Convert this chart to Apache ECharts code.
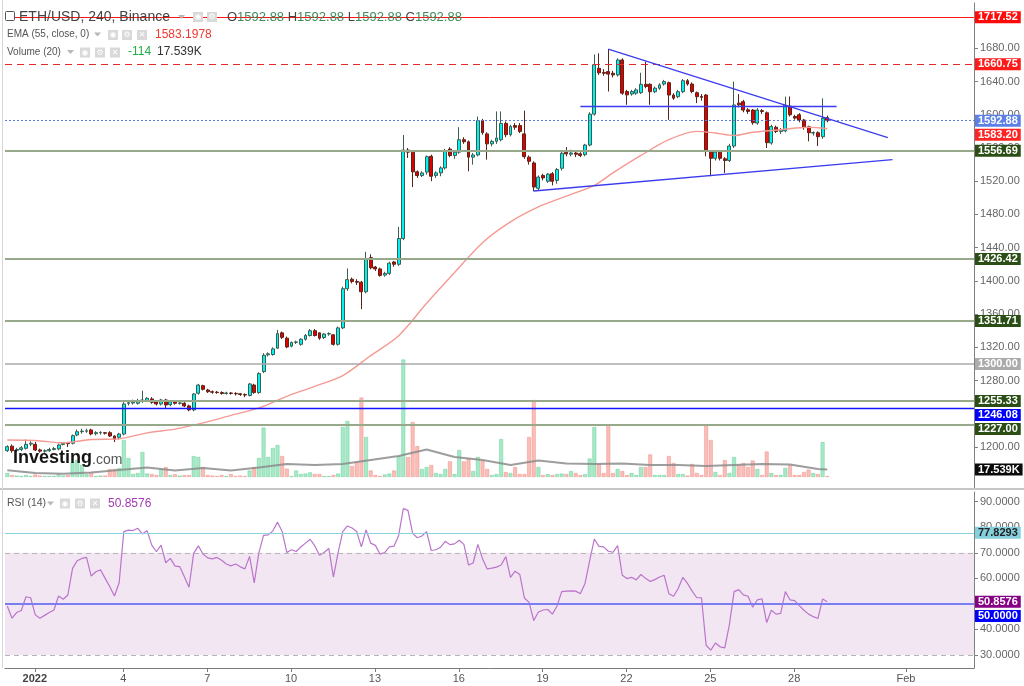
<!DOCTYPE html>
<html><head><meta charset="utf-8">
<script src="https://cdn.jsdelivr.net/npm/echarts@6/dist/echarts.min.js"></script>
<style>html,body{margin:0;padding:0;background:#fff}#c{width:1024px;height:686px}</style>
</head><body><div id="c"></div>
<script>
// ---------- DATA ----------
const START = Date.UTC(2021, 11, 30, 20, 0); // first 4h candle
const N_CAT = 208;                             // 4h slots shown on the time axis
const categories = [];
for (let i = 0; i < N_CAT; i++) {
  categories.push(new Date(START + i * 4 * 3600e3).toISOString().slice(0, 16).replace('T', ' '));
}

// [open, close, low, high] per 4h candle
const ohlc = [
[1195.5,1200.4,1194,1202],[1201,1195.5,1193,1203],[1196,1197,1194,1199],[1197,1199,1195,1201],[1198.4,1203.2,1197,1209],[1203.5,1204.5,1201,1207],[1203.2,1196.4,1195,1206],[1196.5,1195,1193,1198],[1195,1195.5,1193,1197],[1195.5,1197,1194,1199],
[1197,1198,1196,1200],[1197.6,1202.4,1196,1204],[1203,1204.5,1202,1206],[1204.5,1204,1200,1206],[1204.5,1213.6,1203,1215],[1214.4,1218.4,1213,1221],[1218.4,1219,1216,1222],[1219,1219.5,1217,1222],[1220.5,1215.7,1214,1222],[1216,1217.2,1214,1219],
[1217,1217.5,1215,1219],[1217.2,1216.6,1215,1218],[1217.2,1213.2,1212,1219],[1213.2,1209.3,1206,1214],[1211.7,1215.6,1209,1217],[1215.6,1251.8,1214,1254],[1252.5,1253.3,1250,1256],[1253,1254,1251,1257],[1252.6,1255.7,1251,1258],[1256,1256.6,1253,1267.8],
[1255.7,1258.6,1254,1260],[1257.8,1253.8,1252,1260],[1254.5,1251.8,1250,1256],[1251.8,1256.6,1250,1258],[1256.6,1250.6,1246.6,1258],[1250.9,1254.5,1249,1256],[1254.5,1252.6,1251,1256],[1252.6,1253,1251,1255],[1252.6,1249.4,1248,1254],[1249.4,1244.6,1243,1251],
[1244.6,1263.8,1243,1265],[1264.7,1274.6,1263,1276],[1273.8,1269.5,1268,1275],[1268.6,1266.6,1265,1270],[1266.5,1266,1264,1268],[1266,1265.5,1264,1267.5],[1265.5,1264.5,1263,1267],[1264.5,1265,1263,1266.5],[1265,1264.5,1263,1266],[1264.5,1264,1262,1266],
[1264,1263.2,1261.5,1265],[1263.2,1262.5,1260,1264.5],[1262,1275.9,1261,1277],[1274.6,1265.5,1264,1276],[1265.5,1288.4,1264,1290],[1290.7,1310.4,1289,1313],[1311,1312.2,1309,1314],[1311.3,1318.1,1310,1320],[1319,1336.5,1318,1341],[1337.4,1332,1330,1339],
[1331,1320.4,1319,1333],[1321.4,1325.9,1320,1327],[1326,1326.5,1324,1328],[1323.6,1329.7,1322,1331],[1329.7,1334.2,1328,1336],[1334.2,1340,1333,1342],[1340,1334.2,1333,1342],[1337.4,1331,1329,1338],[1331.8,1336,1330,1337],[1336,1336.5,1334,1338],
[1335,1323.6,1322,1336],[1323.6,1343.4,1322,1345],[1343.4,1390.6,1342,1393],[1390.6,1401.5,1388,1415],[1402,1399.3,1397,1404],[1399.3,1398.4,1395,1402],[1398.4,1386.9,1366,1400],[1386.9,1426.8,1385,1435],[1428,1415.8,1414,1432],[1416.7,1414.4,1412,1418],
[1414.4,1406.6,1405,1416],[1407,1409,1405,1411],[1409,1421.3,1407,1423],[1422.7,1420,1417,1424],[1420,1451,1418,1465],[1451,1557.5,1449,1575.7],[1557.5,1555,1548,1560],[1555,1531.3,1513,1557],[1531.3,1526.8,1524,1533],[1526.8,1530,1525,1532],
[1531,1549.6,1528,1551],[1550,1526,1520,1552],[1527,1530,1524,1532],[1530,1536,1526,1538],[1536,1557,1534,1559],[1558.7,1551,1549,1561],[1551,1555,1547,1557],[1555,1570,1553,1585],[1570,1567.5,1565,1573],[1567.5,1549,1532,1569],
[1549,1551.6,1540,1554],[1551.6,1593,1550,1598],[1593,1578.5,1576,1595],[1577,1565,1546,1579],[1565,1568,1562,1570],[1568,1572,1565,1604],[1570,1589.6,1568,1604],[1589.6,1576,1573,1592],[1576,1586,1574,1588],[1587,1585,1582,1590],
[1587,1580,1578,1590],[1577,1549.6,1547,1605],[1549,1544,1540,1551],[1542,1513,1508,1544],[1511.5,1525,1509,1527],[1527,1524,1521,1529],[1520,1528.5,1518,1530],[1529,1520,1515,1531],[1521,1534,1517,1536],[1535.6,1553.6,1533,1556],
[1555,1553,1550,1561],[1552.5,1554,1550,1558],[1554,1552.5,1549,1557],[1553,1551,1549,1555],[1552,1563.6,1550,1565],[1563.6,1600.8,1562,1603],[1600.8,1660.3,1599,1672.7],[1656,1650.5,1648,1674],[1651,1650,1647,1655],[1652,1649,1628,1679],
[1650,1648,1645,1653],[1648,1666,1646,1668],[1666,1626,1624,1668],[1628,1624,1612,1630],[1625,1628,1623,1630],[1626,1630,1624,1632],[1626.6,1636.7,1625,1650.6],[1636.7,1634,1632,1664],[1636.7,1627.8,1612,1638],[1627.8,1632,1626,1634],
[1632,1636,1630,1638],[1637,1640,1635,1642],[1638.6,1623.8,1594,1640],[1623.8,1620,1618,1626],[1621.8,1627.8,1620,1630],[1627.8,1641,1626,1643],[1641,1637,1635,1643],[1637,1628,1626,1639],[1626.6,1621.8,1614,1628],[1622,1621,1617,1625],
[1623.8,1557.6,1550,1625],[1555.5,1547.6,1526,1557],[1547.6,1555,1545,1557],[1555,1547.6,1545,1557],[1547,1545,1530,1549],[1545,1562.4,1543,1565],[1562.4,1611.8,1560,1640],[1614,1612,1609,1625],[1615.8,1605.7,1603,1618],[1606,1604,1601,1608],
[1605.7,1590.5,1588,1607],[1590,1605.7,1588,1608],[1605,1604,1601,1607],[1602.4,1566.4,1560,1604],[1566,1586,1564,1588],[1585,1580,1578,1587],[1580,1582,1577,1584],[1580.6,1611.6,1579,1621.8],[1610.5,1600,1598,1622],[1598,1596,1594,1600],
[1600,1593.7,1591,1602],[1593.7,1584.8,1582,1595],[1585.6,1578.4,1568,1587],[1578,1578.5,1575,1580],[1578.4,1573.6,1562.4,1580],[1573.6,1595.7,1571,1619.8],[1596.5,1592.88,1591,1599]
];

// volume per candle (K)
const volume = [
9.4,4.7,3.5,2.3,4.7,2.3,5.9,3.5,2.3,2.3,
2.3,7,3.5,4.7,35,40,28,7,11.7,2.3,
3.5,3.5,18.7,18.7,21,86.6,44.5,7,9.4,58.5,
8.2,7,4.7,18.7,23.4,4.7,7,3.5,4.7,4.7,
49,46.8,23.4,4.7,3.5,2.3,4.7,2.3,7,2.3,
3.5,2.3,15.2,23.4,44.5,115.8,46.8,67.9,74.9,49.1,
19.7,2.3,15.2,7,8.2,10.8,7,7,2.3,2.3,
4.7,8.2,117,131,25.7,35.1,186,93.6,15.2,4.7,
2.3,5.9,8.2,15.2,49.1,275,46.8,128.7,72.5,18.7,
23.4,28.1,9.4,7,18.7,36.5,7,63.2,36.5,43.3,
14,46.8,38.6,18.7,4.7,7,88.9,11.7,9.4,23.4,
7,7,93.6,180.2,23.4,4.7,7,4.7,7,8.2,
7,14,9.4,4.7,7,43.3,117,30.4,9.4,123.3,
9.4,18.7,14,4.7,9.4,4.7,23.4,23.4,52.9,4.7,
4.7,4.7,49.1,32.8,7,7,3.5,30.4,9.4,4.7,
123.3,86.6,11.7,4.7,39.8,9.4,46.8,28.1,32.8,23.4,
38.6,18.7,4.7,59.7,9.4,4.7,4.7,21.1,28.1,4.7,
4.7,11.7,17.3,9.4,7,81.9,2.3
];

// Volume (20) average, read at sample candles [index, K]
const volMaPoints = [[0,15.7],[6,9.4],[12,7.7],[18,10.5],[24,16.4],[30,22.2],[36,15.2],[42,21],[48,15.2],[54,22.2],[60,30.4],[66,28.1],[72,30.4],[78,39.8],[84,49.1],[90,64.4],[96,46.8],[102,39.8],[108,28.1],[114,38.6],[120,31.6],[126,30.4],[132,31.6],[138,28.1],[144,28.1],[150,25.7],[156,28.1],[162,30.4],[168,29.3],[174,18.7],[176,17.5]];

// EMA(55) read at sample candles [index, price]
const emaPoints = [[0,1208.4],[6,1207.8],[12,1205],[18,1209],[24,1209.8],[30,1217],[36,1221.5],[42,1229],[48,1238],[54,1247],[60,1261],[66,1273],[72,1286],[78,1310],[84,1334],[90,1373],[96,1410],[102,1446],[108,1471],[114,1489],[120,1502],[126,1515],[130,1530],[136,1551],[142,1570],[148,1580],[152,1578],[156,1575],[160,1579],[166,1582],[172,1585],[176,1583.2]];

// RSI(14) per candle
const rsi = [
49.2,44.4,46.6,47.4,52.8,52.4,45.7,44.4,45.5,46.6,
47.6,53.1,51.8,53.5,63.9,66.9,67.8,68.2,60.9,62.6,
63.3,60,56.7,53.1,58.3,78.3,78.9,78.7,79.6,77.4,
78.7,73,70.4,73,66.1,67.8,64.8,64.6,60.6,56.5,
69.8,72.7,69.5,68,67.6,68.2,67.1,65.6,64.9,65.6,
64.5,63.7,68.6,58.2,70.1,76.8,77,78.6,82,78.3,
70.1,71.2,70.5,72.3,73.8,75.3,72.7,69,70.1,71.7,
60.5,70.1,78.3,80.5,79.7,78.3,72.3,79,73.8,72.9,
69.5,70.1,72.3,72.6,76.8,87.3,86.6,77.6,75.9,76.6,
78.3,70.9,71.2,72.2,74.5,73.2,73.5,74.9,73.3,65.2,
66,73.3,67.7,63.7,64,64.4,65.2,68.5,60.4,62.8,
61.5,52.3,50.6,43.5,46.8,47.6,47.8,46,49.2,54.8,
55,55.1,55,54,58,66.9,75.4,72.5,72.3,70.6,
70.2,72.8,61.2,59.9,60.4,59.4,61.5,60,58.8,59.5,
60.5,61.2,54,53,56,60.4,58,55,52.4,52.4,
33.8,31.9,34.7,33.2,32.8,41.9,54.8,55.6,53.5,53,
48.7,51.6,52,42.7,47.5,46,46.3,54.8,51.6,51.3,
49.3,47.5,46,45,44.3,51.9,50.86
];

// horizontal price levels
const levelValues = [1717.52, 1660.75, 1592.88, 1556.69, 1426.42, 1351.71, 1300.00, 1255.33, 1246.08, 1227.00];
// drawn trend lines: [[candleIndex, price], [candleIndex, price]]
const trendLines = [[[129,1679],[189,1572.6]], [[123,1610.5],[178,1610.5]], [[113,1508.2],[190,1546]]];
// tick labels of the time axis
const xTickDates  = ['2021-12-31 20:00','2022-01-04 00:00','2022-01-07 00:00','2022-01-10 00:00','2022-01-13 00:00','2022-01-16 00:00','2022-01-19 00:00','2022-01-22 00:00','2022-01-25 00:00','2022-01-28 00:00','2022-02-01 00:00'];
const xTickLabels = ['2022','4','7','10','13','16','19','22','25','28','Feb'];
const priceTicks = [1200,1240,1280,1320,1360,1400,1440,1480,1520,1560,1600,1640,1680];
const rsiTicks = [30,40,50,60,70,80,90];
const rsiLevels = {over:70, mid:50, under:30, extra:77.8293};

// ---------- BUILD ----------
const FONT = 'Arial, "Liberation Sans", sans-serif';
const CLEAR = 'rgba(0,0,0,0)';
const emaArr = new Array(ohlc.length).fill(null);
emaPoints.forEach(([i, v]) => emaArr[i] = v);
const maArr = new Array(ohlc.length).fill(null);
volMaPoints.forEach(([i, v]) => maArr[i] = v);

const volData = volume.map((v, i) => {
  const up = ohlc[i][1] >= ohlc[i][0];
  return {value: v, itemStyle: up
    ? {color: 'rgba(95,215,155,0.55)', borderColor: 'rgba(60,190,120,0.55)', borderWidth: 0.6}
    : {color: 'rgba(245,125,115,0.5)', borderColor: 'rgba(235,100,90,0.5)', borderWidth: 0.6}};
});

const tickVals = xTickDates.map(d => categories.indexOf(d) - 0.1);

function tag(text, bg, fg) {
  return {show: true, position: 'end', formatter: text, backgroundColor: bg, color: fg || '#fff',
          fontSize: 11, fontWeight: 'bold', fontFamily: FONT, padding: [1, 3, 0, 3], lineHeight: 11, distance: 1};
}
const GREEN_LINE = '#97a98a', GREEN_TAG = '#2b4e15';
const levelStyle = [
  {c:'#ff1414', w:1, t:'solid', bg:'#ff0a0a'},
  {c:'#e22a2a', w:1, t:[7,5], bg:'#ff1a1a'},
  {c:'#5b7be0', w:1, t:[2,2], bg:'#5b80e6'},
  {c:GREEN_LINE, w:2, t:'solid', bg:GREEN_TAG},
  {c:GREEN_LINE, w:2, t:'solid', bg:GREEN_TAG},
  {c:GREEN_LINE, w:2, t:'solid', bg:GREEN_TAG},
  {c:'#a8a8a8', w:1.5, t:'solid', bg:'#ababab'},
  {c:GREEN_LINE, w:2, t:'solid', bg:GREEN_TAG},
  {c:'#1414ff', w:1.3, t:'solid', bg:'#0000ff', shiftTo:1238.5},
  {c:GREEN_LINE, w:2, t:'solid', bg:GREEN_TAG, shiftTo:1221.7}
];
const priceMarks = [];
levelValues.forEach((v, i) => {
  const s = levelStyle[i];
  const txt = v.toFixed(2);
  priceMarks.push({yAxis: v, lineStyle: {color: s.c, width: s.w, type: s.t},
                   label: s.shiftTo ? {show: false} : tag(txt, s.bg)});
  if (s.shiftTo) priceMarks.push({yAxis: s.shiftTo, lineStyle: {color: CLEAR, width: 1}, label: tag(txt, s.bg)});
});
trendLines.forEach(([a, b]) => {
  priceMarks.push([{coord: [categories[a[0]], a[1]], lineStyle: {color: '#3c3cef', width: 1.3, type: 'solid'}, label: {show: false}},
                   {coord: [categories[b[0]], b[1]]}]);
});

// header / chrome graphics
const G = [];
function txt(x, y, t, fill, font) { G.push({type: 'text', x, y, z: 100, style: {text: t, fill, font, verticalAlign: 'middle'}}); }
function caret(x, y) { G.push({type: 'polygon', z: 100, shape: {points: [[x, y - 2], [x + 7, y - 2], [x + 3.5, y + 2]]}, style: {fill: '#b8b8b8'}}); }
function icons(xs, y) {
  const glyph = ['◉', '⚙', '✕'];
  xs.forEach((x, i) => {
    G.push({type: 'rect', z: 100, shape: {x, y, width: 10, height: 10}, style: {fill: '#d9d9d9'}});
    G.push({type: 'text', z: 101, x: x + 5, y: y + 5, style: {text: glyph[i % 3], fill: '#fff', font: '8px "DejaVu Sans"', align: 'center', verticalAlign: 'middle'}});
  });
}
G.push({type: 'rect', z: 100, shape: {x: 5.5, y: 11.5, width: 9, height: 9, r: 1}, style: {fill: '#fff', stroke: '#555', lineWidth: 1}});
txt(19, 17, 'ETH/USD, 240, Binance', '#444', '14px ' + FONT);
caret(178, 17);
icons([193, 207], 12);
(function () {
  const ctx = document.createElement('canvas').getContext('2d');
  const f = '13px ' + FONT; ctx.font = f;
  let x = 227;
  [['O', '#444'], ['1592.88', '#3f8c5c'], [' H', '#444'], ['1592.88', '#3f8c5c'], [' L', '#444'], ['1592.88', '#3f8c5c'], [' C', '#444'], ['1592.88', '#3f8c5c']]
    .forEach(([t, c]) => { txt(x, 17, t, c, f); x += ctx.measureText(t).width; });
})();
txt(7, 34.5, 'EMA (55, close, 0)', '#555', '10px ' + FONT);
caret(94, 34.5);
icons([108, 122, 137], 30);
txt(155, 34.5, '1583.1978', '#f2382f', '12px ' + FONT);
txt(7, 52, 'Volume (20)', '#555', '10px ' + FONT);
caret(67, 52);
icons([80, 95, 110], 47.5);
txt(128, 52, '-114', '#1fae48', '12px ' + FONT);
txt(157, 52, '17.539K', '#333', '12px ' + FONT);
txt(7, 503.5, 'RSI (14)', '#555', '10.5px ' + FONT);
caret(47, 503.5);
icons([60, 75, 90], 498.5);
txt(108, 503.5, '50.8576', '#a23bb4', '12px ' + FONT);
// watermark logo
txt(13, 458, 'Investing', '#151515', 'bold 18px ' + FONT);
txt(92, 460, '.com', '#555', '14px ' + FONT);
// panel chrome
G.push({type: 'rect', z: 50, shape: {x: 0, y: 488, width: 1024, height: 2}, style: {fill: '#c6c6c6'}});
G.push({type: 'line', z: 50, shape: {x1: 2.5, y1: 0, x2: 2.5, y2: 668}, style: {stroke: '#d6d6d6', lineWidth: 1}});

const option = {
  animation: false,
  backgroundColor: '#ffffff',
  textStyle: {fontFamily: FONT},
  graphic: {elements: G},
  grid: [
    {left: 5, right: 50, top: 3, height: 485, show: false},
    {left: 5, right: 50, top: 3, height: 474, show: false},
    {left: 5, right: 50, top: 492, height: 176, show: false}
  ],
  xAxis: [
    {type: 'category', gridIndex: 0, data: categories, show: false, boundaryGap: true},
    {type: 'category', gridIndex: 1, data: categories, show: false, boundaryGap: true},
    {type: 'value', gridIndex: 2, min: -0.5, max: N_CAT - 0.5,
     axisLine: {show: true, onZero: false, lineStyle: {color: '#7a7a7a'}},
     axisTick: {show: true, length: 4, customValues: tickVals, lineStyle: {color: '#7a7a7a'}},
     axisLabel: {show: true, customValues: tickVals, margin: 5, color: '#555', fontSize: 11,
       formatter: v => {
         const i = tickVals.findIndex(t => Math.abs(t - v) < 1e-6);
         if (i < 0) return '';
         return i === 0 ? '{b|' + xTickLabels[i] + '}' : xTickLabels[i];
       },
       rich: {b: {fontWeight: 'bold', color: '#444', fontSize: 11}}},
     splitLine: {show: false}}
  ],
  yAxis: [
    {type: 'value', gridIndex: 0, position: 'right', min: 1150.6, max: 1734.6,
     axisLine: {show: true, onZero: false, lineStyle: {color: '#808080'}},
     axisTick: {show: true, length: 4, customValues: priceTicks, lineStyle: {color: '#808080'}},
     axisLabel: {show: true, customValues: priceTicks, formatter: v => v.toFixed(2), color: '#666', fontSize: 11, margin: 6},
     splitLine: {show: false}},
    {type: 'value', gridIndex: 1, min: 0, max: 1109.2, show: false},
    {type: 'value', gridIndex: 2, position: 'right', min: 24.9, max: 93.8,
     axisLine: {show: true, onZero: false, lineStyle: {color: '#808080'}},
     axisTick: {show: true, length: 4, customValues: rsiTicks, lineStyle: {color: '#808080'}},
     axisLabel: {show: true, customValues: rsiTicks, formatter: v => v.toFixed(4), color: '#666', fontSize: 11, margin: 6},
     splitLine: {show: false}}
  ],
  series: [
    {type: 'bar', name: 'Volume', xAxisIndex: 1, yAxisIndex: 1, data: volData, barWidth: 4, z: 1, silent: true},
    {type: 'line', name: 'VolMA', xAxisIndex: 1, yAxisIndex: 1, data: maArr, connectNulls: true, showSymbol: false,
     lineStyle: {color: 'rgba(140,140,140,0.85)', width: 2}, z: 2, silent: true,
     markLine: {symbol: ['none', 'none'], silent: true, data: [
       {yAxis: 17.539, lineStyle: {color: CLEAR, width: 1}, label: tag('17.539K', '#0b0b0b')}]}},
    {type: 'candlestick', name: 'ETH/USD', xAxisIndex: 0, yAxisIndex: 0, data: ohlc, barWidth: 3.4, z: 3, clip: false,
     itemStyle: {color: '#00f2f2', color0: '#e00000', borderColor: '#3a5e50', borderColor0: '#5a2418', borderWidth: 1},
     markLine: {symbol: ['none', 'none'], silent: true, data: priceMarks}},
    {type: 'line', name: 'EMA', xAxisIndex: 0, yAxisIndex: 0, data: emaArr, connectNulls: true, showSymbol: false, smooth: 0.3,
     lineStyle: {color: '#f59a92', width: 1.4}, z: 4, silent: true,
     markLine: {symbol: ['none', 'none'], silent: true, data: [
       {yAxis: 1576.0, lineStyle: {color: CLEAR, width: 1}, label: tag('1583.20', '#ff2424')}]}},
    {type: 'line', name: 'RSI', xAxisIndex: 2, yAxisIndex: 2, data: rsi.map((v, i) => [i, v]), showSymbol: false,
     lineStyle: {color: '#bb74cc', width: 1.2}, z: 3, silent: true, clip: false,
     markArea: {silent: true, itemStyle: {color: '#f2e6f2'}, data: [[{yAxis: rsiLevels.under}, {yAxis: rsiLevels.over}]]},
     markLine: {symbol: ['none', 'none'], silent: true, data: [
       {yAxis: rsiLevels.over, lineStyle: {color: '#b5b5b5', width: 1, type: [5, 4]}, label: {show: false}},
       {yAxis: rsiLevels.under, lineStyle: {color: '#b5b5b5', width: 1, type: [5, 4]}, label: {show: false}},
       {yAxis: rsiLevels.mid, lineStyle: {color: '#7d7df2', width: 2, type: 'solid'}, label: {show: false}},
       {yAxis: rsiLevels.extra, lineStyle: {color: '#8ad4e2', width: 1, type: 'solid'}, label: tag('77.8293', '#86d0de', '#222')},
       {yAxis: 50.86, lineStyle: {color: CLEAR, width: 1}, label: tag('50.8576', '#850085')},
       {yAxis: 45.3, lineStyle: {color: CLEAR, width: 1}, label: tag('50.0000', '#0000ff')}
     ]}}
  ]
};
const chart = echarts.init(document.getElementById('c'), null, {renderer: 'canvas'});
chart.setOption(option);
</script>
</body></html>
